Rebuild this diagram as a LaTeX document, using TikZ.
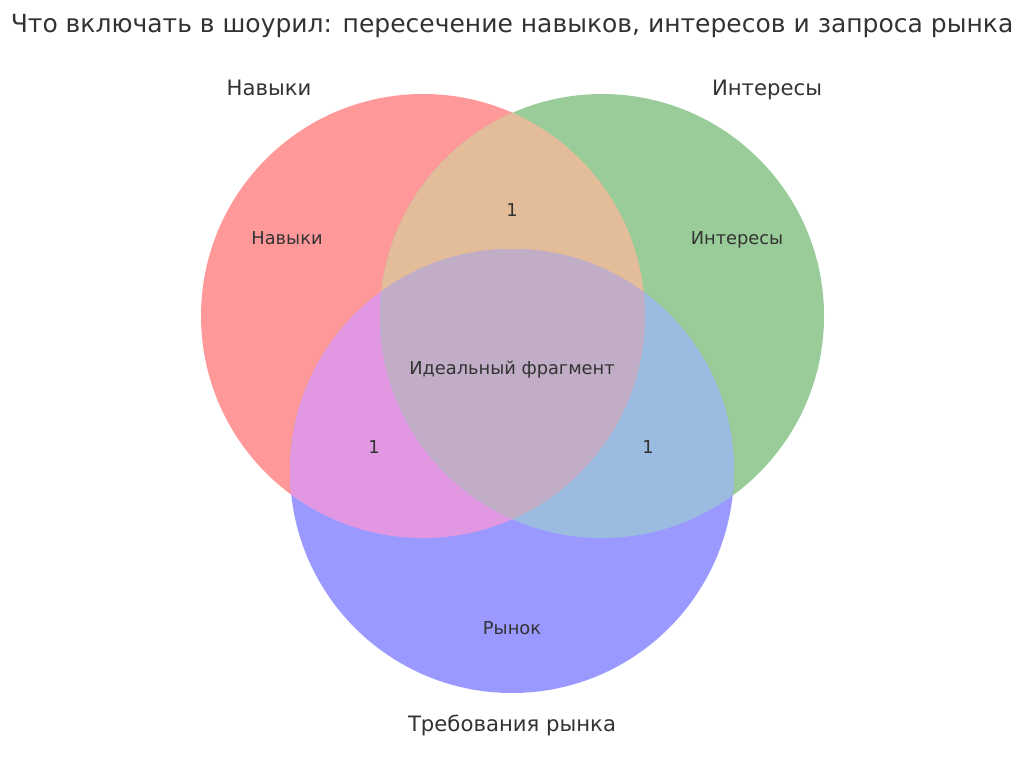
\documentclass[tikz,border=0pt]{standalone}
\usepackage{fontspec}
\setmainfont{DejaVu Sans}
\usepackage{tikz}
\usetikzlibrary{positioning}
\usepackage{xcolor}
\definecolor{skillred}{RGB}{255,153,153}
\definecolor{intgreen}{RGB}{153,204,153}
\definecolor{mktblue}{RGB}{153,153,255}
\definecolor{rgmix}{RGB}{227,188,153}
\definecolor{rbmix}{RGB}{226,151,226}
\definecolor{gbmix}{RGB}{155,187,225}
\definecolor{rgbmix}{RGB}{193,173,198}
\definecolor{txtgray}{RGB}{51,51,51}
\tikzset{
  inlabel/.style={text=txtgray, font=\fontsize{17.8}{21}\selectfont, inner sep=0pt, text height=0.75em, text depth=0.22em},
  setlabel/.style={text=txtgray, font=\fontsize{21.2}{25}\selectfont, inner sep=0pt, text height=0.75em, text depth=0.22em},
}

\begin{document}
\begin{tikzpicture}[x=1pt,y=-1pt]
     \useasboundingbox (0,0) rectangle (1024,758);
     \fill[white] (0,0) rectangle (1024,758);
     \coordinate (cS) at (423,316);%Навыки
     \coordinate (cI) at (602,316);%Интересы
     \coordinate (cM) at (512,471);%Рынок

     \fill[color=skillred] (cS) circle (222);
     \fill[color=intgreen] (cI) circle (222);
     \fill[color=mktblue] (cM) circle (222);
     \begin{scope}
       \clip (cS) circle (222);
       \fill[color=rgmix] (cI) circle (222);
       \fill[color=rbmix] (cM) circle (222);
     \end{scope}
     \begin{scope}
       \clip (cI) circle (222);
       \fill[color=gbmix] (cM) circle (222);
       \clip (cS) circle (222);
       \fill[color=rgbmix] (cM) circle (222);
     \end{scope}

     \node[text=txtgray, font=\fontsize{25}{30}\selectfont, inner sep=0pt, text height=0.75em, text depth=0.22em] (title) at (512,30) {Что включать в шоурил: пересечение навыков, интересов и запроса рынка};
     \node[setlabel] (setS) at (269,93) {Навыки};
     \node[setlabel] (setI) at (767,93) {Интересы};
     \node[setlabel] (setM) at (512,729) {Требования рынка};

     \node[inlabel] (onlyS) at (287,242) {Навыки};
     \node[inlabel] (onlyI) at (737,242) {Интересы};
     \node[inlabel] (onlyM) at (512,632) {Рынок};
     \node[inlabel] (SI) at (512,214) {1};
     \node[inlabel] (SM) at (374,451) {1};
     \node[inlabel] (IM) at (648,451) {1};
     \node[inlabel] (SIM) at (512,372) {Идеальный фрагмент};
    \end{tikzpicture}
\end{document}
